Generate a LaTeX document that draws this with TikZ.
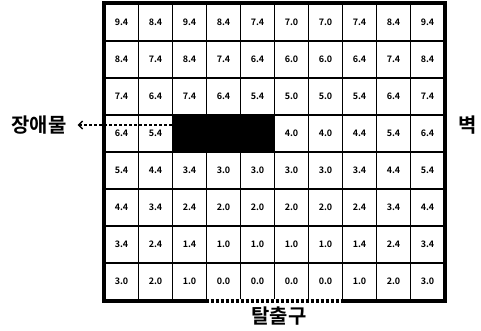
\documentclass[tikz,border=0pt]{standalone}
\usepackage{fontspec}
\setmainfont{Noto Sans CJK KR}[BoldFont={Noto Sans CJK KR Bold}]
\usetikzlibrary{arrows.meta,positioning}
\tikzset{
  cell/.style={draw, line width=1.8bp, minimum width=34bp, minimum height=37bp,
               inner sep=0pt, font=\bfseries\fontsize{9}{9}\selectfont},
  block/.style={cell, fill=black, minimum width=102bp},
  tag/.style={font=\bfseries\fontsize{20}{20}\selectfont, inner sep=2pt},
  wall/.style={line width=4bp, line cap=rect},
  exitline/.style={line width=3.5bp, dash pattern=on 3.5bp off 1.5bp,
                   preaction={draw=white, solid, line width=4bp}},
  pointer/.style={densely dashed, line width=1.4bp, -{Straight Barb[length=4bp,width=8bp]}},
}
\begin{document}
\begin{tikzpicture}[x=1bp, y=-1bp]
    \useasboundingbox (0,0) rectangle (481,330);
    \foreach \row [count=\r] in {
        {9.4,8.4,9.4,8.4,7.4,7.0,7.0,7.4,8.4,9.4},
        {8.4,7.4,8.4,7.4,6.4,6.0,6.0,6.4,7.4,8.4},
        {7.4,6.4,7.4,6.4,5.4,5.0,5.0,5.4,6.4,7.4},
        {6.4,5.4,{},{},{},4.0,4.0,4.4,5.4,6.4},
        {5.4,4.4,3.4,3.0,3.0,3.0,3.0,3.4,4.4,5.4},
        {4.4,3.4,2.4,2.0,2.0,2.0,2.0,2.4,3.4,4.4},
        {3.4,2.4,1.4,1.0,1.0,1.0,1.0,1.4,2.4,3.4},
        {3.0,2.0,1.0,0.0,0.0,0.0,0.0,1.0,2.0,3.0}}
      \foreach \v [count=\c] in \row
        \node[cell] (c-\r-\c) at (87.5+34*\c, 37*\r-14.5) {\v};
    \node[block] (obs) at (223.5,133.5) {};
    % outer wall, open at the exit
    \draw[wall] (c-8-4.south west) -- (c-8-1.south west) -- (c-1-1.north west)
        -- (c-1-10.north east) -- (c-8-10.south east) -- (c-8-7.south east);
    \draw[exitline] (c-8-4.south west) -- (c-8-7.south east);
    \node[tag] (obs-lbl) at (39,125) {장애물};
    \node[tag] (wall-lbl) at (468,125) {벽};
    \node[tag] (exit-lbl) at (279,316) {탈출구};
    \draw[pointer] (obs.west |- obs-lbl.east) -- ([xshift=9bp]obs-lbl.east);
\end{tikzpicture}
\end{document}
